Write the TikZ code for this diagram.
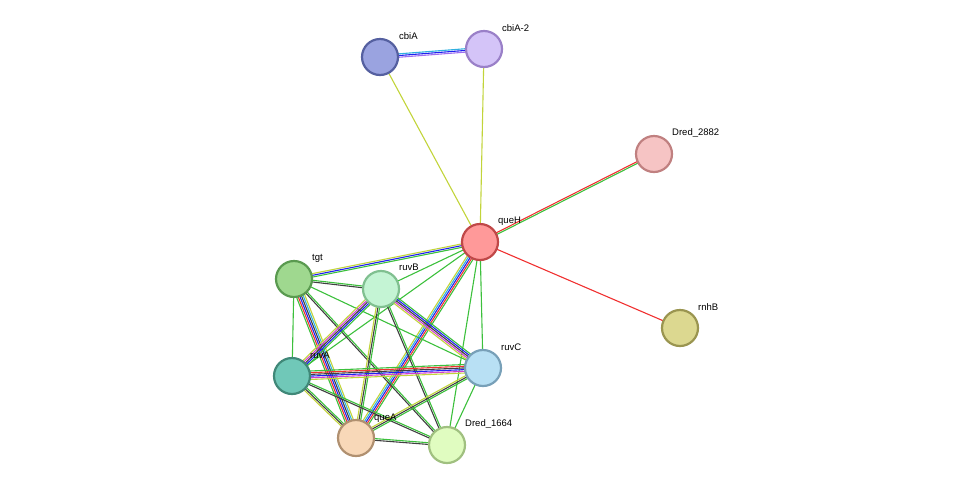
\documentclass[tikz,border=0pt]{standalone}
\usepackage{fontspec}
\setmainfont{Liberation Sans}
\usetikzlibrary{calc}
\pgfdeclarelayer{bg}\pgfsetlayers{bg,main}
\definecolor{tm}{HTML}{C2D43A}
\definecolor{nb}{HTML}{3CC03C}
\definecolor{ex}{HTML}{D040D0}
\definecolor{db}{HTML}{30B0E0}
\definecolor{co}{HTML}{2020F0}
\definecolor{fu}{HTML}{F03030}
\definecolor{ce}{HTML}{404040}
\definecolor{ho}{HTML}{A070F0}
\tikzset{
 prot/.style={circle,minimum size=36pt,inner sep=0pt,line width=2.2pt},
 lab/.style={font=\fontsize{9.5}{10}\selectfont,anchor=west,inner sep=0pt}
}
\newcommand\medge[4]{%
 \foreach \c [count=\i] in {#4}{%
  \pgfmathsetmacro\off{(\i-(#3+1)/2)*1.7}%
  \draw[\c,line width=1.1pt] ($(#1)!\off pt!90:(#2)$) -- ($(#2)!\off pt!-90:(#1)$);}}
\newcommand\pn[5]{%
 \definecolor{f#1}{HTML}{#4}\definecolor{d#1}{HTML}{#5}%
 \node[prot,fill=f#1,draw=d#1] (#1) at (#2,#3) {};}
\begin{document}
\begin{tikzpicture}[x=1pt,y=-1pt]
\useasboundingbox (0,0) rectangle (976,491);
\pn{cbiA}{380}{57}{9AA3E0}{5560A0}
\pn{cbiA2}{484}{49}{D4C4F8}{9A80C8}
\pn{D2882}{654}{154}{F6C4C4}{C08080}
\pn{queH}{480}{242}{FF9999}{C04848}
\pn{tgt}{294}{279}{9FD88F}{5A9A50}
\pn{ruvB}{381}{289}{C4F4D4}{80C090}
\pn{rnhB}{680}{328}{DCD890}{9A9550}
\pn{ruvA}{292}{376}{70C8B8}{408878}
\pn{ruvC}{483}{368}{B8E0F4}{78A0B8}
\pn{queA}{356}{438}{F8D8B8}{B09070}
\pn{D1664}{447}{445}{E0FCC0}{A0C080}
\node[lab] (lcbiA) at (399,36) {cbiA};
\node[lab] (lcbiA2) at (502,28) {cbiA-2};
\node[lab] (lD2882) at (672,133) {Dred\_2882};
\node[lab] (lqueH) at (498,221) {queH};
\node[lab] (ltgt) at (312,258) {tgt};
\node[lab] (lruvB) at (399,267) {ruvB};
\node[lab] (lrnhB) at (698,307) {rnhB};
\node[lab] (lruvA) at (310,355) {ruvA};
\node[lab] (lruvC) at (501,347) {ruvC};
\node[lab] (lqueA) at (374,418) {queA};
\node[lab] (lD1664) at (465,424) {Dred\_1664};
\begin{pgfonlayer}{bg}
\medge{cbiA}{cbiA2}{3}{ho,co,db}
\medge{cbiA}{queH}{1}{tm}
\medge{cbiA2}{queH}{1}{tm}
\medge{queH}{D2882}{2}{nb,fu}
\medge{queH}{rnhB}{1}{fu}
\medge{queH}{tgt}{3}{tm,co,nb}
\medge{queH}{ruvB}{1}{nb}
\medge{queH}{ruvA}{1}{nb}
\medge{queH}{queA}{5}{tm,db,co,fu,nb}
\medge{queH}{ruvC}{1}{nb}
\medge{queH}{D1664}{1}{nb}
\medge{tgt}{ruvB}{2}{ce,nb}
\medge{tgt}{ruvA}{1}{nb}
\medge{tgt}{queA}{6}{nb,fu,co,ce,db,tm}
\medge{tgt}{ruvC}{1}{nb}
\medge{tgt}{D1664}{2}{ce,nb}
\medge{ruvB}{ruvA}{5}{tm,ex,ce,co,nb}
\medge{ruvB}{ruvC}{5}{tm,ex,ce,co,nb}
\medge{ruvB}{queA}{3}{tm,ce,nb}
\medge{ruvB}{D1664}{2}{ce,nb}
\medge{ruvA}{ruvC}{6}{tm,ex,co,ce,fu,nb}
\medge{ruvA}{queA}{3}{tm,ce,nb}
\medge{ruvA}{D1664}{2}{ce,nb}
\medge{ruvC}{queA}{3}{tm,ce,nb}
\medge{ruvC}{D1664}{1}{nb}
\medge{queA}{D1664}{2}{ce,nb}
\end{pgfonlayer}
\end{tikzpicture}
\end{document}
